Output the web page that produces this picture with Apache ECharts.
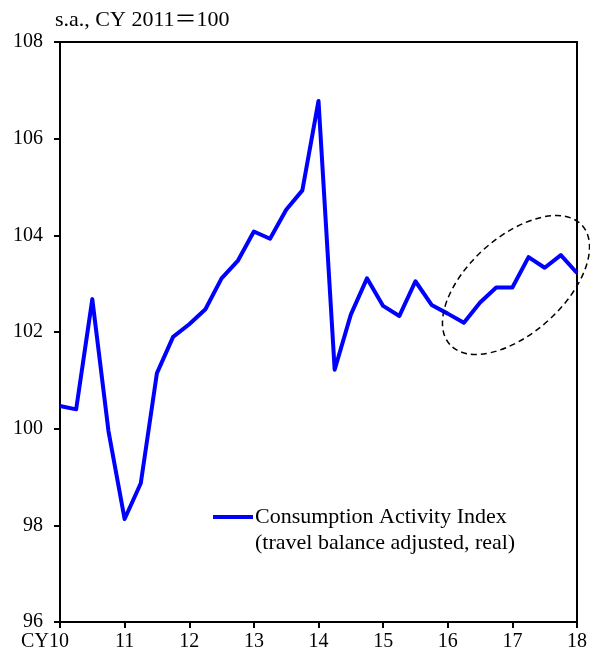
<!DOCTYPE html>
<html>
<head>
<meta charset="utf-8">
<script src="https://cdn.jsdelivr.net/npm/echarts@6/dist/echarts.min.js"></script>
<style>
  html, body { margin: 0; padding: 0; background: #fff; }
  #chart { width: 590px; height: 657px; }
</style>
</head>
<body>
<div id="chart"></div>
<script>
// quarterly, s.a., CY2011 = 100
const quarters = [
  '2010Q1', '2010Q2', '2010Q3', '2010Q4',
  '2011Q1', '2011Q2', '2011Q3', '2011Q4',
  '2012Q1', '2012Q2', '2012Q3', '2012Q4',
  '2013Q1', '2013Q2', '2013Q3', '2013Q4',
  '2014Q1', '2014Q2', '2014Q3', '2014Q4',
  '2015Q1', '2015Q2', '2015Q3', '2015Q4',
  '2016Q1', '2016Q2', '2016Q3', '2016Q4',
  '2017Q1', '2017Q2', '2017Q3', '2017Q4',
  '2018Q1'
];
const activityIndex = [
  100.47, 100.40, 102.68, 99.95,
  98.13, 98.87, 101.15, 101.90,
  102.16, 102.47, 103.11, 103.47,
  104.08, 103.93, 104.53, 104.93,
  106.78, 101.22, 102.36, 103.11,
  102.54, 102.33, 103.05, 102.56,
  102.38, 102.19, 102.61, 102.92,
  102.92, 103.55, 103.33, 103.59,
  103.22
];
const xTickLabels = ['CY10', '11', '12', '13', '14', '15', '16', '17', '18'];
const yTicks = { min: 96, max: 108, step: 2 };

const seriesName = 'Consumption Activity Index';
const seriesNote = '(travel balance adjusted, real)';
const unitText = 's.a., CY 2011\uFF1D100';

const serif = '"Liberation Serif", "Times New Roman", "Noto Sans CJK JP", serif';

let myChart = echarts.init(document.getElementById('chart'), null, { renderer: 'canvas' });
myChart.setOption({
  animation: false,
  backgroundColor: '#fff',
  textStyle: { fontFamily: serif },
  title: {
    text: unitText,
    left: 55,
    top: 9,
    padding: 0,
    textStyle: { fontFamily: serif, fontSize: 22, fontWeight: 'normal', color: '#000' }
  },
  grid: {
    left: 60, right: 13, top: 42, bottom: 35,
    show: true,
    borderColor: '#000',
    borderWidth: 2,
    backgroundColor: 'transparent'
  },
  legend: {
    data: [seriesName],
    left: 213,
    top: 505,
    padding: 0,
    icon: 'rect',
    itemWidth: 40,
    itemHeight: 4,
    itemGap: 0,
    textStyle: { fontFamily: serif, fontSize: 22, color: '#000', lineHeight: 24, padding: [0, 0, 0, -3] }
  },
  xAxis: {
    type: 'category',
    data: quarters,
    boundaryGap: false,
    axisLine: { show: true, lineStyle: { color: '#000', width: 2 } },
    axisTick: { show: true, interval: 3, inside: false, length: 6, lineStyle: { color: '#000', width: 2 } },
    axisLabel: {
      interval: 3,
      margin: 10,
      color: '#000',
      fontFamily: serif,
      fontSize: 20,
      formatter: function (value, index) {
        let k = Math.floor(index / 4);
        let lab = xTickLabels[k];
        if (k === 0) {
          // keep the "10" under the tick, let "CY" hang to the left
          return '{n|' + lab + '}{pad|}';
        }
        return lab;
      },
      rich: {
        n: { fontFamily: serif, fontSize: 20, color: '#000' },
        pad: { width: 30 }
      }
    },
    splitLine: { show: false }
  },
  yAxis: {
    type: 'value',
    min: yTicks.min,
    max: yTicks.max,
    interval: yTicks.step,
    axisLine: { show: true, lineStyle: { color: '#000', width: 2 } },
    axisTick: { show: true, inside: false, length: 6, lineStyle: { color: '#000', width: 2 } },
    axisLabel: { margin: 17, color: '#000', fontFamily: serif, fontSize: 20 },
    splitLine: { show: false }
  },
  graphic: [
    {
      type: 'text',
      left: 255,
      top: 532,
      style: { text: seriesNote, font: '22px ' + serif, fill: '#000' }
    },
    {
      type: 'ellipse',
      x: 516,
      y: 285,
      rotation: 42 * Math.PI / 180,
      shape: { cx: 0, cy: 0, rx: 89, ry: 48 },
      style: { fill: 'none', stroke: '#000', lineWidth: 1.5, lineDash: [6, 4] },
      z: 10
    }
  ],
  series: [{
    name: seriesName,
    type: 'line',
    data: activityIndex,
    symbol: 'none',
    lineStyle: { color: '#0000ff', width: 4, join: 'round' },
    itemStyle: { color: '#0000ff' }
  }]
}, true);
window.onresize = myChart.resize;
</script>
</body>
</html>
